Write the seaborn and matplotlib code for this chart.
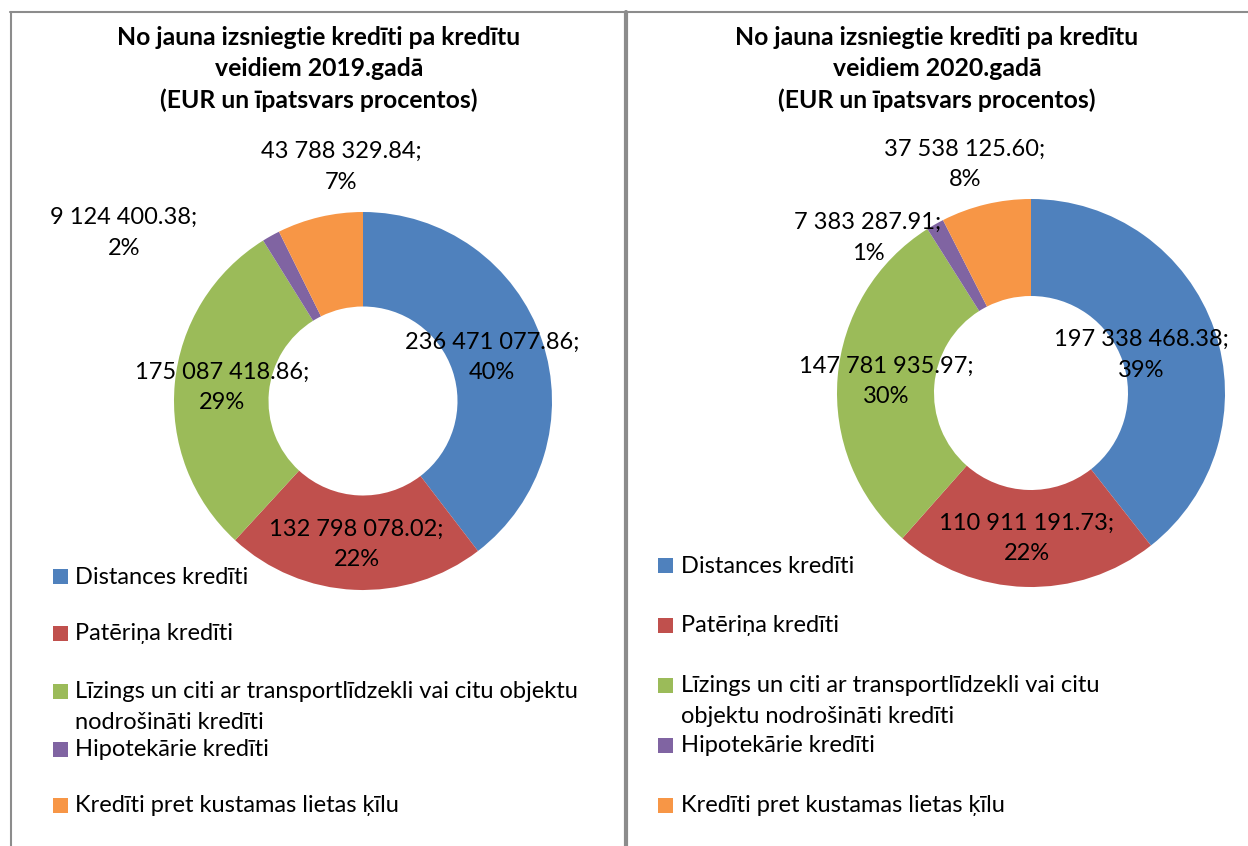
import math
import matplotlib
matplotlib.use("Agg")
import matplotlib.pyplot as plt
import seaborn as sns
from matplotlib.lines import Line2D
from matplotlib.patches import Rectangle

# Kredītu veidi (leģendas teksts)
CATEGORIES_2019 = [
    "Distances kredīti",
    "Patēriņa kredīti",
    "Līzings un citi ar transportlīdzekli vai citu objektu\nnodrošināti kredīti",
    "Hipotekārie kredīti",
    "Kredīti pret kustamas lietas ķīlu",
]
CATEGORIES_2020 = [
    "Distances kredīti",
    "Patēriņa kredīti",
    "Līzings un citi ar transportlīdzekli vai citu\nobjektu nodrošināti kredīti",
    "Hipotekārie kredīti",
    "Kredīti pret kustamas lietas ķīlu",
]
VALUES_2019 = [236471077.86, 132798078.02, 175087418.86, 9124400.38, 43788329.84]
VALUES_2020 = [197338468.38, 110911191.73, 147781935.97, 7383287.91, 37538125.60]
YEARS = ["2019", "2020"]

COLORS = ["#4F81BD", "#C0504D", "#9BBB59", "#8064A2", "#F79646"]

W, H = 1248, 846
FS = 17
LINE_PITCH = 30
LS = 1.55

sns.set_theme(style="white")
plt.rcParams["font.family"] = ["Lato", "DejaVu Sans"]


def pct_labels(values):
    # Excel noapaļo tā, lai summa būtu 100% (lielākā atlikuma metode)
    total = sum(values)
    raw = [v / total * 100 for v in values]
    base = [int(r) for r in raw]
    rest = 100 - sum(base)
    order = sorted(range(len(raw)), key=lambda i: raw[i] - base[i], reverse=True)
    for i in order[:rest]:
        base[i] += 1
    return base


def fmt(v):
    return f"{v:,.2f}".replace(",", " ")


# izkārtojums katram panelim (pikseļos)
panels = [
    dict(x0=0, w=625, cx=363, cy=401, r=189, title_x=319,
         label_r=[0.72, 0.76, 0.75, None, None],
         outside={3: (-1.265, 0.889), 4: (-0.116, 1.238)},
         sq_x=53, txt_x=75, rows=[577, 634, 692, 750, 806]),
    dict(x0=625, w=623, cx=1031 - 625, cy=393, r=194, title_x=937 - 625,
         label_r=[0.60, 0.75, 0.75, None, None],
         outside={3: (-0.840, 0.799), 4: (-0.340, 1.180)},
         sq_x=658 - 625, txt_x=681 - 625, rows=[566, 626, 686, 746, 806]),
]
datasets = [(VALUES_2019, CATEGORIES_2019), (VALUES_2020, CATEGORIES_2020)]

fig = plt.figure(figsize=(W / 100, H / 100), dpi=100)

for p, (values, cats), year in zip(panels, datasets, YEARS):
    ax = fig.add_axes([p["x0"] / W, 0, p["w"] / W, 1])
    cx, cy, R = p["cx"], H - p["cy"], p["r"]
    wedges, _ = ax.pie(values, colors=COLORS, startangle=90, counterclock=False,
                       center=(cx, cy), radius=R,
                       wedgeprops=dict(width=R * 0.5, linewidth=0))
    ax.set_xlim(0, p["w"])
    ax.set_ylim(0, H)
    ax.axis("off")

    pcts = pct_labels(values)
    for i, (wdg, v, pc) in enumerate(zip(wedges, values, pcts)):
        if i in p["outside"]:
            dx, dy = p["outside"][i]
            x, y = cx + dx * R, cy + dy * R
        else:
            ang = math.radians((wdg.theta1 + wdg.theta2) / 2)
            x = cx + p["label_r"][i] * R * math.cos(ang)
            y = cy + p["label_r"][i] * R * math.sin(ang)
        ax.text(x, y, f"{fmt(v)};\n{pc}%", ha="center", va="center",
                fontsize=FS, color="black", linespacing=LS)

    title = ("No jauna izsniegtie kredīti pa kredītu\n"
             f"veidiem {year}.gadā\n(EUR un īpatsvars procentos)")
    ax.text(p["title_x"], H - 69, title, ha="center", va="center",
            fontsize=17.8, fontweight="bold", color="black", linespacing=1.45)

    # leģenda
    for i, (lab, ry) in enumerate(zip(cats, p["rows"])):
        ax.add_patch(Rectangle((p["sq_x"], H - ry - 7), 15, 15,
                               color=COLORS[i], linewidth=0))
        n = lab.count("\n")
        ax.text(p["txt_x"], H - ry - n * LINE_PITCH / 2, lab, ha="left",
                va="center", fontsize=FS, color="black", linespacing=1.6)

# rāmja līnijas
grey = "#8c8c8c"
fig.add_artist(Line2D([10 / W, 1], [1 - 12 / H] * 2, transform=fig.transFigure,
                      color=grey, lw=1.5))
fig.add_artist(Line2D([10.5 / W] * 2, [0, 1 - 12 / H], transform=fig.transFigure,
                      color=grey, lw=1.5))
fig.add_artist(Line2D([625.5 / W] * 2, [0, 1 - 12 / H], transform=fig.transFigure,
                      color=grey, lw=3))

fig.savefig("out.png", dpi=100, facecolor="white")
